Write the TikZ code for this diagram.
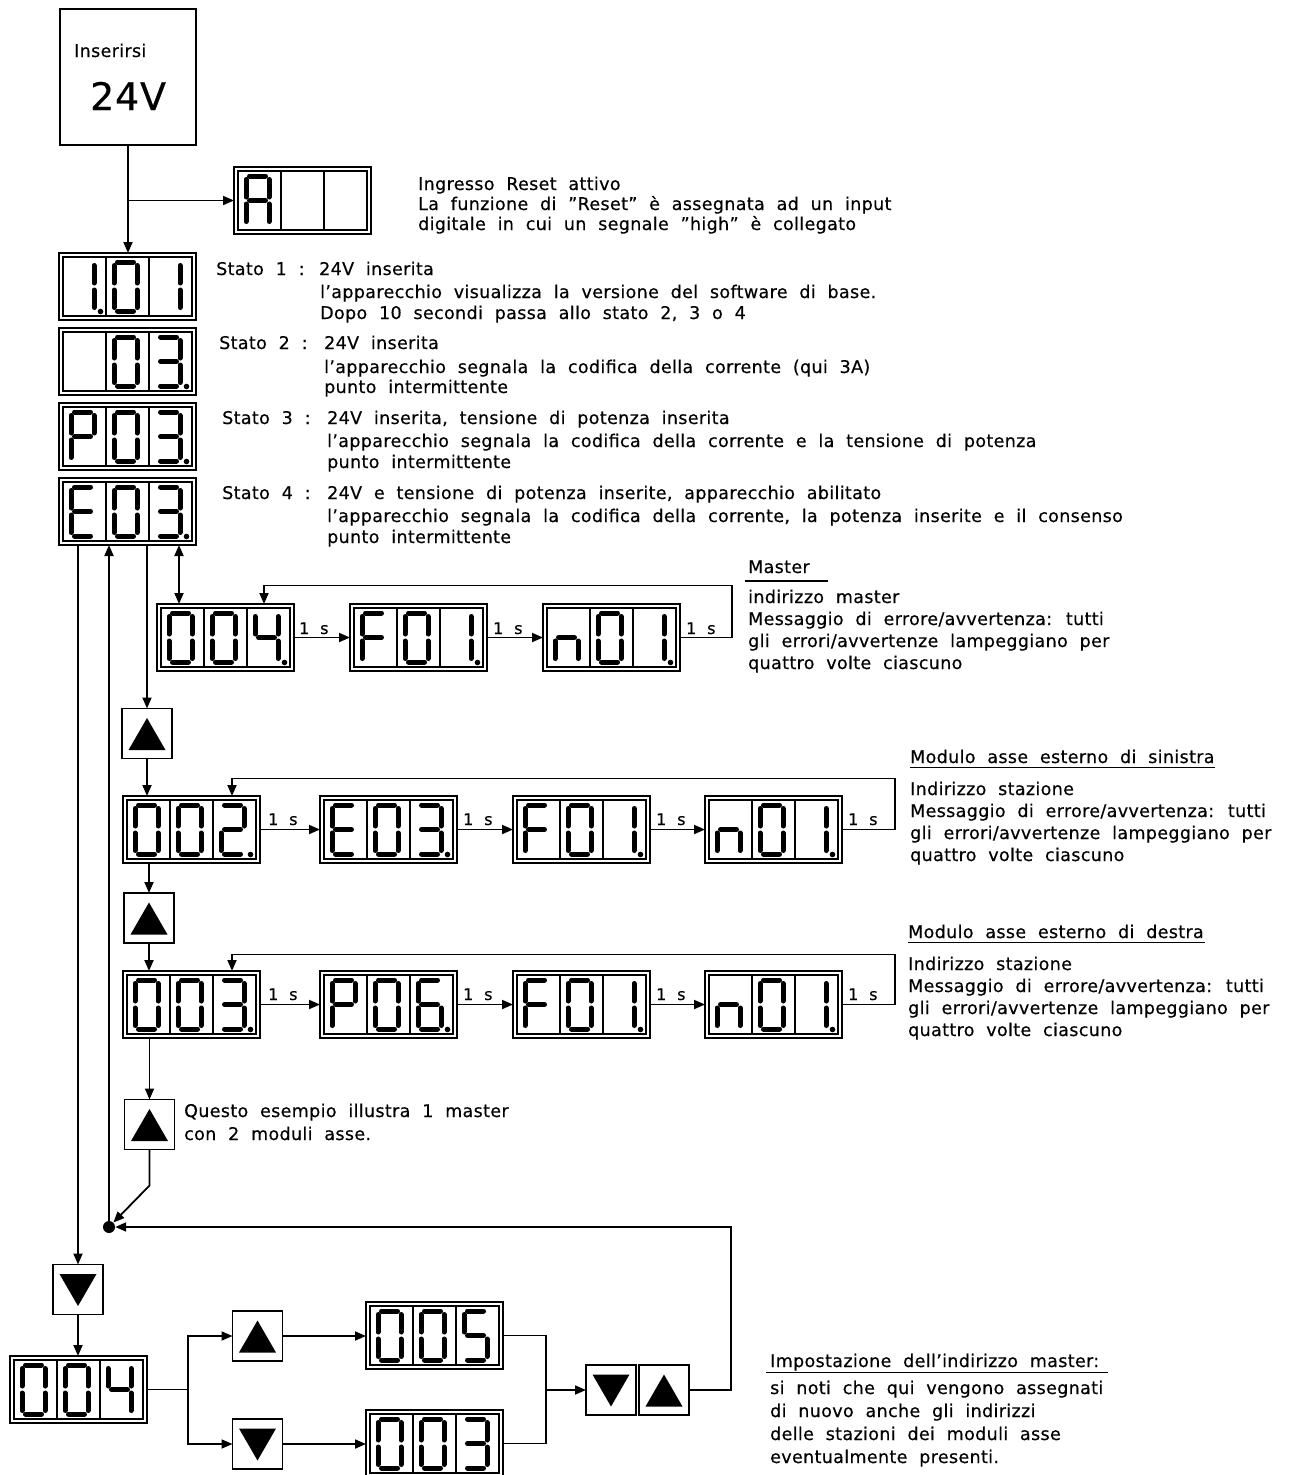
\documentclass[tikz,border=0pt]{standalone}
\usepackage{fontspec}
\setmainfont{DejaVu Sans}[LetterSpace=2,WordSpace=2.0,FakeBold=0.4]
\usetikzlibrary{arrows.meta,calc}

\expandafter\def\csname dig0\endcsname{a,b,c,d,e,f}
\expandafter\def\csname dig1\endcsname{b,c}
\expandafter\def\csname dig2\endcsname{a,b,g,e,d}
\expandafter\def\csname dig3\endcsname{a,b,c,d,g}
\expandafter\def\csname dig4\endcsname{f,g,b,c}
\expandafter\def\csname dig5\endcsname{a,f,g,c,d}
\expandafter\def\csname dig6\endcsname{a,f,e,d,c,g}
\expandafter\def\csname digA\endcsname{a,b,c,e,f,g}
\expandafter\def\csname digP\endcsname{a,b,e,f,g}
\expandafter\def\csname digE\endcsname{a,d,e,f,g}
\expandafter\def\csname digF\endcsname{a,e,f,g}
\expandafter\def\csname dign\endcsname{c,e,g}
\expandafter\def\csname dig-\endcsname{z}

\newcommand\sgdrawa{\draw[segline] (3.5,0) -- (19.5,0);}
\newcommand\sgdrawb{\draw[segline] (23,3.5) -- (23,21);}
\newcommand\sgdrawc{\draw[segline] (23,28) -- (23,45.5);}
\newcommand\sgdrawd{\draw[segline] (3.5,49) -- (19.5,49);}
\newcommand\sgdrawe{\draw[segline] (0,28) -- (0,45.5);}
\newcommand\sgdrawf{\draw[segline] (0,3.5) -- (0,21);}
\newcommand\sgdrawg{\draw[segline] (3.5,24.5) -- (19.5,24.5);}
\newcommand\sgdrawz{}

\newcommand\drawdigit[3]{\begin{scope}[shift={(#1,#2)}]\edef\curlist{\csname dig#3\endcsname}\foreach \s in \curlist {\csname sgdraw\s\endcsname}\end{scope}}

\newcommand\disp[7]{%
  \node[dispbox] (#1) at (#2,#3) {};
  \draw[line width=1.3pt] (#2+4,#3+4) rectangle (#2+133,#3+63);
  \draw[line width=1.3pt] (#2+47,#3+4) -- (#2+47,#3+63) (#2+90,#3+4) -- (#2+90,#3+63);
  \drawdigit{#2+12}{#3+9}{#4}%
  \drawdigit{#2+55}{#3+9}{#5}%
  \drawdigit{#2+98}{#3+9}{#6}%
  \ifnum#7>-1 \fill (#2+41.5+43*#7,#3+58.5) circle (2.8);\fi
}

\begin{document}
\begin{tikzpicture}[x=1pt,y=-1pt,
  conn/.style={line width=1.8pt,-{Triangle[length=11pt,width=9pt]}},
  dconn/.style={line width=1.8pt,{Triangle[length=11pt,width=9pt]}-{Triangle[length=11pt,width=9pt]}},
  plain/.style={line width=1.8pt},
  dispbox/.style={draw,line width=2pt,minimum width=137pt,minimum height=67pt,inner sep=0,outer sep=0,anchor=north west},
  segline/.style={line width=5pt,line cap=round},
  txt/.style={anchor=base west,inner sep=0,font=\fontsize{17.5}{20}\selectfont},
  lbl/.style={anchor=base west,inner sep=0,font=\fontsize{16}{18}\selectfont},
  btnup/.style={draw,line width=1.8pt,minimum size=50pt,inner sep=0,outer sep=0,
    path picture={\fill[shift={(path picture bounding box.center)}] (0,-15.5) -- (-18.5,16.5) -- (18.5,16.5) -- cycle;}},
  btndn/.style={draw,line width=1.8pt,minimum size=50pt,inner sep=0,outer sep=0,
    path picture={\fill[shift={(path picture bounding box.center)}] (0,16.5) -- (-18.5,-15.5) -- (18.5,-15.5) -- cycle;}},
]
\fill[white] (0,0) rectangle (1292,1475);
\useasboundingbox (0,0) rectangle (1292,1475);

% power box
\node[draw,line width=1.8pt,minimum width=136pt,minimum height=136pt,inner sep=0,outer sep=0,anchor=north west] (inbox) at (60,9) {};
\node[txt] (tIns) at (74,57) {Inserirsi};
\node[anchor=base west,inner sep=0,font=\fontsize{38}{40}\selectfont] (t24) at (90,110) {24V};

% displays
\disp{dA}{234}{167}{A}{-}{-}{-1}
\disp{d1}{59}{253}{1}{0}{1}{0}
\disp{d2}{59}{328}{-}{0}{3}{2}
\disp{d3}{59}{403}{P}{0}{3}{2}
\disp{d4}{59}{478}{E}{0}{3}{2}

\disp{m1}{157}{604}{0}{0}{4}{2}
\disp{m2}{350}{604}{F}{0}{1}{2}
\disp{m3}{543}{604}{n}{0}{1}{2}

\disp{s1}{123}{796}{0}{0}{2}{2}
\disp{s2}{320}{796}{E}{0}{3}{2}
\disp{s3}{513}{796}{F}{0}{1}{2}
\disp{s4}{705}{796}{n}{0}{1}{2}

\disp{r1}{123}{971}{0}{0}{3}{2}
\disp{r2}{320}{971}{P}{0}{6}{2}
\disp{r3}{513}{971}{F}{0}{1}{2}
\disp{r4}{705}{971}{n}{0}{1}{2}

\disp{b1}{10}{1356}{0}{0}{4}{-1}
\disp{b2}{366}{1302}{0}{0}{5}{-1}
\disp{b3}{366}{1410}{0}{0}{3}{-1}

% buttons
\node[btnup] (u1) at (147,733.5) {};
\node[btnup] (u2) at (149,918) {};
\node[btnup] (u3) at (149.5,1124.5) {};
\node[btndn] (dn1) at (78,1289.5) {};
\node[btnup] (bu) at (257.5,1336) {};
\node[btndn] (bd) at (257.5,1444) {};
\node[btndn] (pd) at (611,1390) {};
\node[btnup] (pu) at (664,1390) {};

\node[circle,fill,inner sep=0,minimum size=12pt] (dot) at (109,1227) {};

% texts
\node[txt] (tR1) at (418,190) {Ingresso Reset attivo};
\node[txt] (tR2) at (418,210) {La funzione di ”Reset” è assegnata ad un input};
\node[txt] (tR3) at (418,230) {digitale in cui un segnale ”high” è collegato};

\node[txt] (s1a) at (216,275) {Stato 1 :};
\node[txt] (s1b) at (319,275) {24V inserita};
\node[txt] (s1c) at (320,298) {l'apparecchio visualizza la versione del software di base.};
\node[txt] (s1d) at (320,319) {Dopo 10 secondi passa allo stato 2, 3 o 4};

\node[txt] (s2a) at (219,349) {Stato 2 :};
\node[txt] (s2b) at (324,349) {24V inserita};
\node[txt] (s2c) at (324,373) {l'apparecchio segnala la codifica della corrente (qui 3A)};
\node[txt] (s2d) at (324,393) {punto intermittente};

\node[txt] (s3a) at (222,424) {Stato 3 :};
\node[txt] (s3b) at (327,424) {24V inserita, tensione di potenza inserita};
\node[txt] (s3c) at (327,447) {l'apparecchio segnala la codifica della corrente e la tensione di potenza};
\node[txt] (s3d) at (327,468) {punto intermittente};

\node[txt] (s4a) at (222,499) {Stato 4 :};
\node[txt] (s4b) at (327,499) {24V e tensione di potenza inserite, apparecchio abilitato};
\node[txt] (s4c) at (327,522) {l'apparecchio segnala la codifica della corrente, la potenza inserite e il consenso};
\node[txt] (s4d) at (327,543) {punto intermittente};

\node[txt] (tM0) at (748,573) {Master};
\draw[line width=1.5pt] (745,581) -- (828,581);
\node[txt] (tM1) at (748,603) {indirizzo master};
\node[txt] (tM2) at (748,625) {Messaggio di errore/avvertenza:  tutti};
\node[txt] (tM3) at (748,647) {gli errori/avvertenze lampeggiano per};
\node[txt] (tM4) at (748,669) {quattro volte ciascuno};

\node[txt] (tS0) at (910,763) {Modulo asse esterno di sinistra};
\draw[line width=1.5pt] (910,767.5) -- (1215,767.5);
\node[txt] (tS1) at (910,795) {Indirizzo stazione};
\node[txt] (tS2) at (910,817) {Messaggio di errore/avvertenza:  tutti};
\node[txt] (tS3) at (910,839) {gli errori/avvertenze lampeggiano per};
\node[txt] (tS4) at (910,861) {quattro volte ciascuno};

\node[txt] (tD0) at (908,938) {Modulo asse esterno di destra};
\draw[line width=1.5pt] (908,942.5) -- (1205,942.5);
\node[txt] (tD1) at (908,970) {Indirizzo stazione};
\node[txt] (tD2) at (908,992) {Messaggio di errore/avvertenza:  tutti};
\node[txt] (tD3) at (908,1014) {gli errori/avvertenze lampeggiano per};
\node[txt] (tD4) at (908,1036) {quattro volte ciascuno};

\node[txt] (tQ1) at (184,1117) {Questo esempio illustra 1 master};
\node[txt] (tQ2) at (184,1140) {con 2 moduli asse.};

\node[txt] (tI0) at (770,1367) {Impostazione dell'indirizzo master:};
\draw[line width=1.5pt] (766,1372.5) -- (1108,1372.5);
\node[txt] (tI1) at (770,1394) {si noti che qui vengono assegnati};
\node[txt] (tI2) at (770,1417) {di nuovo anche gli indirizzi};
\node[txt] (tI3) at (770,1440) {delle stazioni dei moduli asse};
\node[txt] (tI4) at (770,1463) {eventualmente presenti.};

% 1 s labels
\node[lbl] (lm1) at (299,634) {1 s};
\node[lbl] (lm2) at (493,634) {1 s};
\node[lbl] (lm3) at (686,634) {1 s};
\node[lbl] (ls1) at (268,825) {1 s};
\node[lbl] (ls2) at (463,825) {1 s};
\node[lbl] (ls3) at (656,825) {1 s};
\node[lbl] (ls4) at (848,825) {1 s};
\node[lbl] (lr1) at (268,1000) {1 s};
\node[lbl] (lr2) at (463,1000) {1 s};
\node[lbl] (lr3) at (656,1000) {1 s};
\node[lbl] (lr4) at (848,1000) {1 s};

% connectors top
\draw[conn] (inbox.south) -- (inbox.south |- d1.north);
\draw[conn] (inbox.south |- dA.west) -- (dA.west);

\coordinate (m1in) at ([xshift=22pt]m1.north west);
\draw[conn] (dn1.north |- d4.south) -- (dn1.north);
\draw[conn] (dot.center) -- (dot.center |- d4.south);
\draw[conn] (u1.north |- d4.south) -- (u1.north);
\draw[dconn] (m1in |- d4.south) -- (m1in);

% master row
\draw[conn] (m1.east) -- (m2.west);
\draw[conn] (m2.east) -- (m3.west);
\draw[conn] (m3.east) -- ++(52,0) -- ++(0,-52) -| ([xshift=-30pt]m1.north east);

% sinistra row
\draw[conn] (u1.south) -- (u1.south |- s1.north);
\draw[conn] (s1.east) -- (s2.west);
\draw[conn] (s2.east) -- (s3.west);
\draw[conn] (s3.east) -- (s4.west);
\draw[conn] (s4.east) -- ++(53,0) -- ++(0,-51) -| ([xshift=-28pt]s1.north east);
\draw[conn] (u2.north |- s1.south) -- (u2.north);

% destra row
\draw[conn] (u2.south) -- (u2.south |- r1.north);
\draw[conn] (r1.east) -- (r2.west);
\draw[conn] (r2.east) -- (r3.west);
\draw[conn] (r3.east) -- (r4.west);
\draw[conn] (r4.east) -- ++(53,0) -- ++(0,-50) -| ([xshift=-28pt]r1.north east);
\draw[conn] (u3.north |- r1.south) -- (u3.north);

% to dot
\draw[conn] (u3.south) -- ++(0,36) -- (dot);
\draw[conn] (pu.east) -- ++(42,0) |- (dot);

% bottom
\draw[conn] (dn1.south) -- (dn1.south |- b1.north);
\draw[conn] (b1.east) -- ++(41,0) |- (bu.west);
\draw[conn] (b1.east) -- ++(41,0) |- (bd.west);
\draw[conn] (bu.east) -- (bu.east -| b2.west);
\draw[conn] (bd.east) -- (bd.east -| b3.west);
\coordinate (mg) at ($(b2.east)+(43,0)$);
\draw[plain] (b2.east) -- (mg) |- (b3.east);
\draw[conn] (mg |- pd.west) -- (pd.west);
\end{tikzpicture}
\end{document}
